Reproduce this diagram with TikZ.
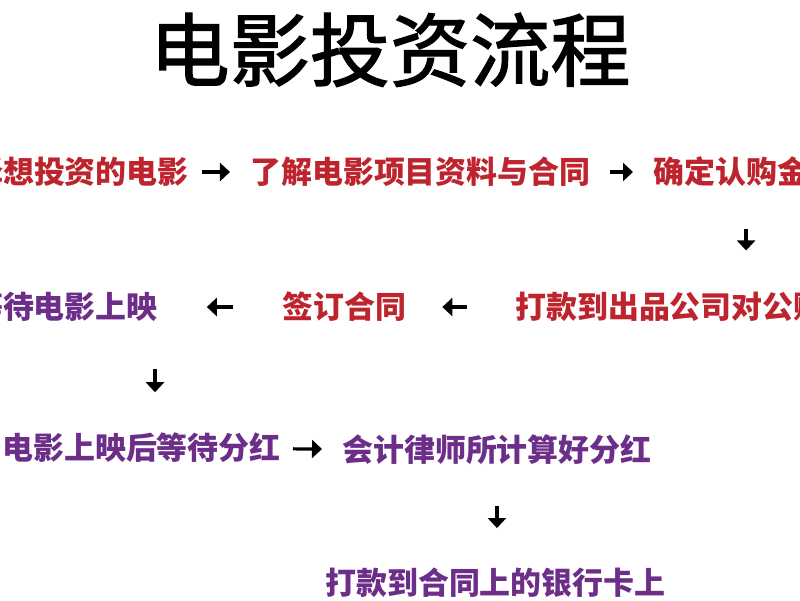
\documentclass[tikz,border=0pt]{standalone}
\usepackage{fontspec}
\usepackage{tikz}
\usetikzlibrary{arrows.meta}
\usetikzlibrary{calc}
\newfontfamily\cjk{Noto Sans CJK SC}
\newfontfamily\cjktitle{Noto Sans CJK SC}[FakeBold=1.5]
\definecolor{stepred}{RGB}{190,36,46}
\definecolor{steppurple}{RGB}{108,46,136}

\tikzset{
  stepnode/.style={inner sep=0pt, text height=19.4pt, text depth=2.6pt,
    font=\cjk\bfseries\fontsize{22}{24}\selectfont},
  redstep/.style={stepnode, text=stepred},
  purplestep/.style={stepnode, text=steppurple},
  flow/.style={line width=2.3pt, -{Triangle[length=0.25cm,width=0.45cm]}}
}

\begin{document}
\begin{tikzpicture}[x=0.025cm, y=-0.025cm]
\useasboundingbox (0,0) rectangle (800,600);
\clip (0,0) rectangle (800,600);

\node (title) at (390, 50) [inner sep=0pt, text height=50pt, text depth=7pt,
  font=\cjktitle\fontsize{57}{60}\selectfont] {电影投资流程};

\node (s1) at (189, 172) [redstep, anchor=east] {选择想投资的电影};
\node (s2) at (250, 172) [redstep, anchor=west] {了解电影项目资料与合同};
\node (s3) at (653, 172) [redstep, anchor=west] {确定认购金额};
\node (s4) at (515, 307) [redstep, anchor=west] {打款到出品公司对公账户};
\node (s6) at (282, 307) [redstep, anchor=west] {签订合同};
\node (s5) at (158, 307) [purplestep, anchor=east] {等待电影上映};
\node (s7) at (2, 448) [purplestep, anchor=west] {电影上映后等待分红};
\node (s8) at (342, 450) [purplestep, anchor=west] {会计律师所计算好分红};
\node (s9) at (325, 583) [purplestep, anchor=west] {打款到合同上的银行卡上};
\coordinate (d5) at ($(s5.south east)+(-3,0)$);

\draw [flow, shorten <=0.33cm, shorten >=0.5cm] (s1) -- (s2);
\draw [flow, shorten <=0.48cm, shorten >=0.5cm] (s2) -- (s3);
\draw [flow, shorten <=1.02cm, shorten >=1.02cm] (s3.south) -- (s3.south |- s4.north);
\draw [flow, shorten <=1.2cm, shorten >=0.9cm] (s4) -- (s6);
\draw [flow, shorten <=1.22cm, shorten >=1.22cm] (s6) -- (s5);
\draw [flow, shorten <=1.15cm, shorten >=1.0cm] (d5) -- (d5 |- s7.north);
\draw [flow, shorten <=0.3cm, shorten >=0.5cm] (s7) -- (s8);
\draw [flow, shorten <=1.0cm, shorten >=0.98cm] (s8.south) -- (s8.south |- s9.north);

\end{tikzpicture}
\end{document}
